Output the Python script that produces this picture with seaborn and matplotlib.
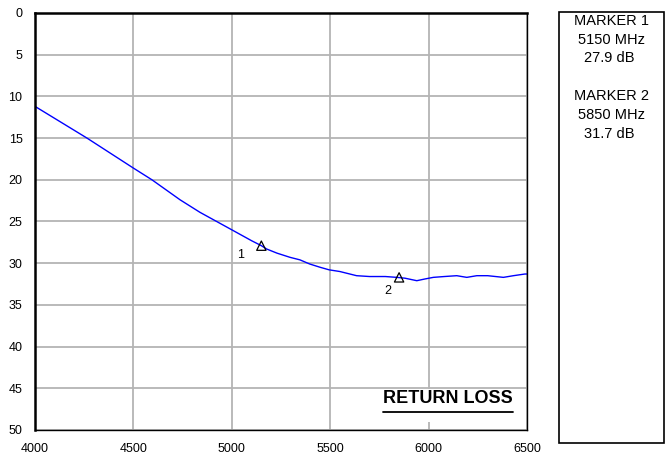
import numpy as np
import pandas as pd
import matplotlib
matplotlib.use("Agg")
import matplotlib.pyplot as plt
import seaborn as sns
from matplotlib.patches import Rectangle
from matplotlib.lines import Line2D

# trace
freq_mhz = [4000, 4264, 4500, 4594, 4737, 4838, 5000, 5100, 5150, 5177, 5230,
            5296, 5346, 5396, 5450, 5495, 5549, 5634, 5700, 5780, 5838, 5880,
            5940, 5980, 6024, 6080, 6143, 6194, 6245, 6300, 6380, 6431, 6489, 6500]
return_loss = [11.2, 15.0, 18.6, 20.0, 22.4, 23.9, 26.0, 27.3, 27.9, 28.3, 28.8,
               29.3, 29.6, 30.1, 30.5, 30.8, 31.0, 31.5, 31.6, 31.6, 31.7, 31.8,
               32.1, 31.9, 31.7, 31.6, 31.5, 31.7, 31.5, 31.5, 31.7, 31.5, 31.3, 31.3]

marker_ids = ["1", "2"]
marker_freq = [5150, 5850]
marker_db = [27.9, 31.7]

x_ticks = [4000, 4500, 5000, 5500, 6000, 6500]
y_ticks = [0, 5, 10, 15, 20, 25, 30, 35, 40, 45, 50]

sns.set_style("white")
plt.rcParams['font.family'] = ['Liberation Sans', 'DejaVu Sans']
plt.rcParams['text.color'] = 'black'
plt.rcParams['xtick.color'] = 'black'
plt.rcParams['ytick.color'] = 'black'

df = pd.DataFrame({"freq": freq_mhz, "rl": return_loss})
mk = pd.DataFrame({"id": marker_ids, "freq": marker_freq, "rl": marker_db})

fig = plt.figure(figsize=(6.66, 4.54), dpi=100)
ax = fig.add_axes([0.0526, 0.0529, 0.7387, 0.9185])

sns.lineplot(data=df, x="freq", y="rl", ax=ax, color="#0000ff", linewidth=1.0)
sns.scatterplot(data=mk, x="freq", y="rl", ax=ax, marker="^", s=45,
                facecolor="none", edgecolor="black", linewidth=0.9, zorder=5)
for (_, r), off in zip(mk.iterrows(), [(-15, -7), (-8, -9.5)]):
    ax.annotate(r["id"], (r["freq"], r["rl"]), textcoords="offset points",
                xytext=off, ha="center", va="center", fontsize=9)

ax.set_xlim(4000, 6500)
ax.set_ylim(50, 0)
ax.set_xticks(x_ticks)
ax.set_yticks(y_ticks)
ax.tick_params(labelsize=9, length=0)
ax.tick_params(axis="x", pad=9.5)
ax.tick_params(axis="y", pad=9)
ax.set_xlabel("")
ax.set_ylabel("")
ax.grid(True, color="#b4b4b4", linewidth=1.3)
for side in ["left", "top"]:
    ax.spines[side].set_linewidth(1.8)
for side in ["right", "bottom"]:
    ax.spines[side].set_linewidth(1.0)
for s in ax.spines.values():
    s.set_color("black")

# return loss label with white backing
ax.add_patch(Rectangle((0.701, 0.019), 0.273, 0.079, transform=ax.transAxes,
                       facecolor="white", edgecolor="none", zorder=4))
ax.text(0.839, 0.075, "RETURN LOSS", transform=ax.transAxes, ha="center",
        va="center", fontsize=13, fontweight="bold", zorder=6)
ax.add_line(Line2D([0.707, 0.972], [0.043, 0.043], transform=ax.transAxes,
                   color="black", linewidth=1.3, zorder=6))

# marker readout panel
fig.patches.append(Rectangle((559 / 666, 1 - 443 / 454), 105 / 666, 431 / 454,
                             transform=fig.transFigure, facecolor="white",
                             edgecolor="black", linewidth=1.2))
lines = ["MARKER 1", "5150 MHz", "27.9 dB", "", "MARKER 2", "5850 MHz", "31.7 dB"]
centers = [611.5, 611, 609.5, 611, 611.5, 611, 609.5]
for i, (t, cx) in enumerate(zip(lines, centers)):
    fig.text(cx / 666, 1 - (20.7 + i * 18.8) / 454, t, ha="center", va="center",
             fontsize=10.5)

fig.savefig("out.png", dpi=100)
